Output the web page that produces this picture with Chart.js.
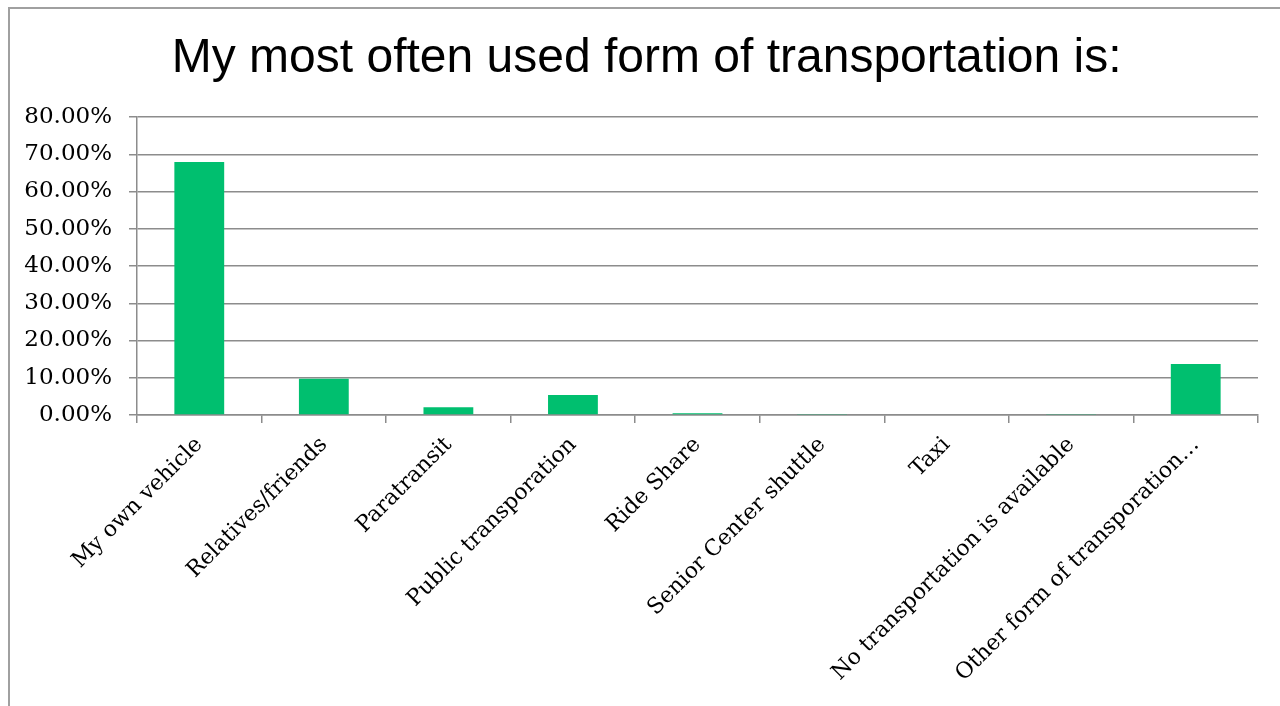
<!DOCTYPE html>
<html>
<head>
<meta charset="utf-8">
<script src="https://cdn.jsdelivr.net/npm/chart.js@4"></script>
<style>
  html, body { margin: 0; padding: 0; background: #fff; overflow: hidden; }
  #wrap { position: relative; width: 1280px; height: 706px; }
  #frame { position: absolute; left: 8px; top: 7px; width: 1300px; height: 720px;
           border-top: 2px solid #a0a0a0; border-left: 2px solid #a0a0a0; box-sizing: border-box; }
  canvas { position: absolute; left: 0; top: 0; }
</style>
</head>
<body>
<div id="wrap">
  <div id="frame"></div>
  <canvas id="chart" width="1280" height="706"></canvas>
</div>
<script>
const categorias = [
  "My own vehicle",
  "Relatives/friends",
  "Paratransit",
  "Public transporation",
  "Ride Share",
  "Senior Center shuttle",
  "Taxi",
  "No transportation is available",
  "Other form of transporation…"
];
const porcentajes = [67.9, 9.7, 2.1, 5.4, 0.5, 0.3, 0, 0.3, 13.7];
const ticksY = [0, 10, 20, 30, 40, 50, 60, 70, 80];

const grisEje = "#8c8c8c";
const fuenteY = { family: "'DejaVu Serif', serif", size: 23 };
const fuenteX = { family: "'DejaVu Serif', serif", size: 22 };

const ctx = document.getElementById("chart").getContext("2d");
new Chart(ctx, {
  type: "bar",
  data: {
    labels: categorias,
    datasets: [{
      data: porcentajes,
      backgroundColor: "#00bf6f",
      barPercentage: 0.4,
      categoryPercentage: 1
    }]
  },
  options: {
    responsive: false,
    animation: false,
    layout: { padding: { left: 22, right: 22, top: 0, bottom: 0 } },
    plugins: {
      legend: { display: false },
      tooltip: { enabled: false },
      title: {
        display: true,
        // el espacio inicial corre el título un poco a la derecha, como en el original
        text: "\u00a0My most often used form of transportation is:",
        color: "#000",
        font: { family: "'Liberation Sans', Arial, sans-serif", size: 48, weight: "normal" },
        padding: { top: 30, bottom: 29.4 }
      }
    },
    scales: {
      x: {
        grid: { display: true, drawOnChartArea: false, offset: true, color: grisEje, lineWidth: 1.5, tickLength: 8 },
        border: { color: grisEje, width: 1.5 },
        ticks: {
          color: "#000",
          font: fuenteX,
          minRotation: 45,
          maxRotation: 45,
          autoSkip: false,
          padding: 9
        },
        afterFit: (scale) => { scale.height = 291; }
      },
      y: {
        min: 0,
        max: 80,
        afterBuildTicks: (scale) => { scale.ticks = ticksY.map(v => ({ value: v })); },
        grid: { color: grisEje, lineWidth: 1.5, tickLength: 8 },
        border: { color: grisEje, width: 1.5 },
        ticks: {
          color: "#000",
          font: fuenteY,
          padding: 17,
          callback: (v) => v.toFixed(2) + "%"
        },
        afterFit: (scale) => { scale.width = 115; }
      }
    }
  }
});
</script>
</body>
</html>
